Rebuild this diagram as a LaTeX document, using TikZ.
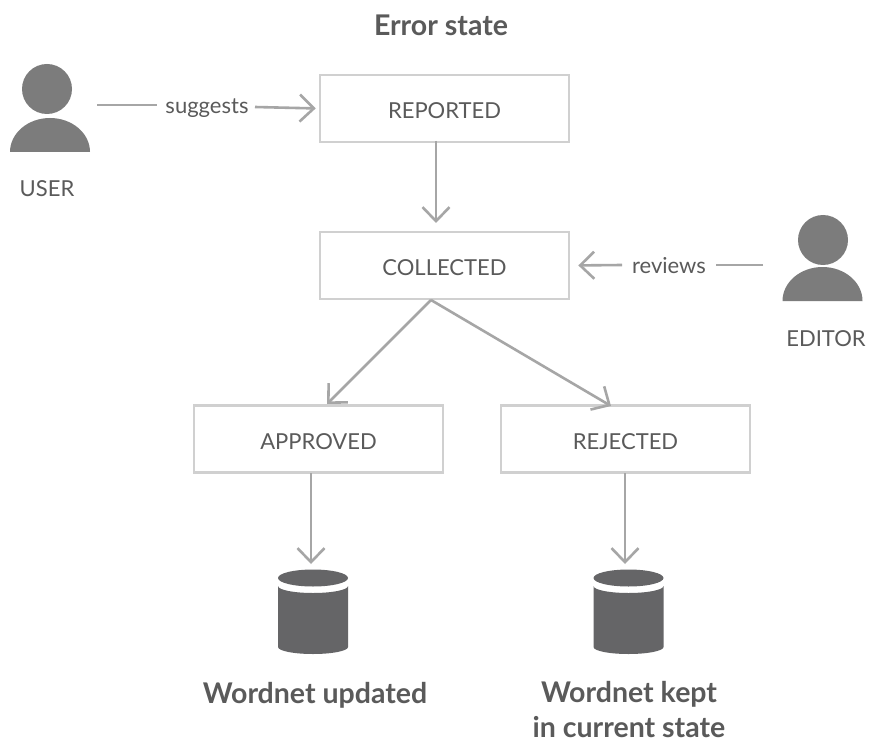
\documentclass[tikz,border=0pt]{standalone}
\usepackage{fontspec}
\setmainfont{Lato}
\usetikzlibrary{arrows.meta}
\definecolor{boxc}{HTML}{D0D0D0}
\definecolor{linec}{HTML}{A6A6A6}
\definecolor{txt}{HTML}{5A5A5A}
\definecolor{personc}{HTML}{7C7C7C}
\definecolor{drumc}{HTML}{656567}
\tikzset{x=1pt,y=-1pt,
 statebox/.style={draw=boxc,line width=2.6pt,minimum width=249pt,minimum height=67pt,inner sep=0pt,text=txt,text height=20.5pt,text depth=0pt,font=\fontsize{22}{26}\selectfont},
 conn/.style={draw=linec,line width=2.6pt,-{Straight Barb[length=14pt,width=27pt,line width=2.6pt]}},
 plain/.style={draw=linec,line width=2.6pt},
 lab/.style={text=txt,font=\fontsize{22}{26}\selectfont,inner sep=0pt},
 big/.style={text=txt,font=\fontsize{28.5}{35pt}\selectfont\bfseries,inner sep=0pt,align=center}}
\newcommand{\person}[4]{%
 \fill[personc] (#1,#2) circle (25);
 \fill[personc] (#3-40,#4) arc[start angle=180,end angle=360,x radius=40,y radius=34] -- cycle;}
\newcommand{\drum}[2]{%
 \fill[drumc] (#1,#2) ellipse (35 and 8.5);
 \fill[drumc] (#1-35,#2+8) arc[start angle=180,end angle=0,x radius=35,y radius=7] -- (#1+35,#2+69) arc[start angle=0,end angle=180,x radius=35,y radius=7] -- cycle;}
\begin{document}
\begin{tikzpicture}
\useasboundingbox (0,0) rectangle (869,743);
\fill[white] (0,0) rectangle (869,743);
\node[statebox] (rep) at (444.5,108.5) {REPORTED};
\node[statebox] (col) at (444.5,265.5) {COLLECTED};
\node[statebox] (app) at (318.5,439) {APPROVED};
\node[statebox] (rej) at (625.5,439) {REJECTED};
\node[big] (title) at (441,25) {Error state};
\node[lab] (sug) at (207,108.5) {suggests};
\node[lab] (rev) at (669,266) {reviews};
\node[lab] (userl) at (47,189) {USER};
\node[lab] (edl) at (826,339) {EDITOR};
\node[big] (dbl1) at (315,695) {Wordnet updated};
\node[big] (dbl2) at (629,710) {Wordnet kept\\in current state};
\person{47}{89}{50}{152}
\person{823}{240}{822.5}{301}
\drum{313}{578}
\drum{628.5}{578}
\coordinate (u) at (97,105);
\coordinate (s1) at (157,105);
\coordinate (s2) at (255,107);
\coordinate (e) at (763,265);
\coordinate (r1) at (716,265);
\coordinate (r2) at (622,265);
\coordinate (a0) at (436,141);
\coordinate (a1) at (436,223);
\coordinate (c0) at (431,300);
\coordinate (c1) at (327,404);
\coordinate (c2) at (611,406);
\coordinate (d1s) at (311,473);
\coordinate (d1) at (311,564);
\coordinate (d2s) at (625,473);
\coordinate (d2) at (625,564);
\draw[plain] (u) -- (s1);
\draw[conn,shorten >=3pt] (s2) -- (rep.west);
\draw[plain] (e) -- (r1);
\draw[conn,shorten >=8pt] (r2) -- (col.east);
\draw[conn] (a0) -- (a1);
\draw[conn] (c0) -- (c1);
\draw[conn] (c0) -- (c2);
\draw[conn] (d1s) -- (d1);
\draw[conn] (d2s) -- (d2);
\end{tikzpicture}
\end{document}
